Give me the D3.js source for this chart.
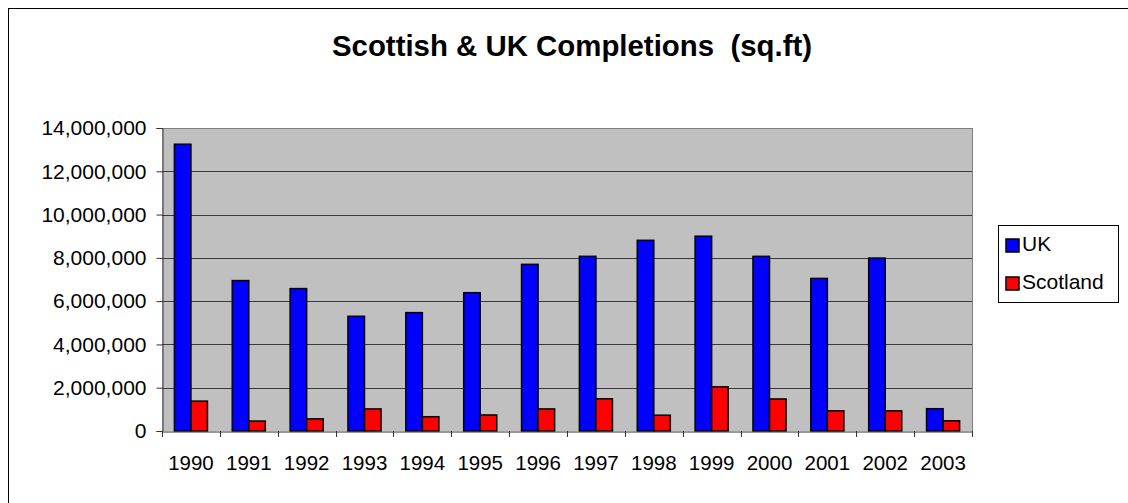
<!DOCTYPE html>
<html>
<head>
<meta charset="utf-8">
<script src="https://cdn.jsdelivr.net/npm/d3@7"></script>
<style>
  html, body { margin: 0; padding: 0; background: #fff; }
  svg { display: block; font-family: "Liberation Sans", Arial, sans-serif; }
</style>
</head>
<body>
<svg id="chart" width="1128" height="503"></svg>
<script>
const years = ["1990","1991","1992","1993","1994","1995","1996","1997","1998","1999","2000","2001","2002","2003"];
const ukValues = [13250000, 6950000, 6580000, 5300000, 5470000, 6390000, 7700000, 8070000, 8810000, 9000000, 8070000, 7050000, 7990000, 1030000];
const scotlandValues = [1380000, 460000, 560000, 1020000, 660000, 740000, 1020000, 1490000, 730000, 2040000, 1480000, 930000, 930000, 470000];
const seriesNames = ["UK", "Scotland"];
const seriesColors = ["#0000FF", "#FF0000"];
const yTicks = [0, 2000000, 4000000, 6000000, 8000000, 10000000, 12000000, 14000000];
const titleText = "Scottish & UK Completions  (sq.ft)";

const svg = d3.select("#chart");
const W = 1128, H = 503;

// outer chart border (right/bottom edges lie outside the picture)
svg.append("rect").attr("x", 8.5).attr("y", 8.5).attr("width", W + 10).attr("height", H + 10)
  .attr("fill", "#fff").attr("stroke", "#000").attr("stroke-width", 1);

const plot = { left: 162, top: 128, right: 972, bottom: 431 };

const x0 = d3.scaleBand().domain(years).range([plot.left, plot.right]).paddingInner(0).paddingOuter(0);
const barW = x0.bandwidth() / 3.5;
const x1 = d3.scaleBand().domain(seriesNames).range([0, barW * 2]);
const y = d3.scaleLinear().domain([0, 14000000]).range([plot.bottom, plot.top]);

// plot background
svg.append("rect").attr("x", plot.left).attr("y", plot.top)
  .attr("width", plot.right - plot.left).attr("height", plot.bottom - plot.top)
  .attr("fill", "#C0C0C0");

// gridlines
svg.append("g").selectAll("line").data(yTicks.filter(d => d > 0)).join("line")
  .attr("x1", plot.left).attr("x2", plot.right)
  .attr("y1", d => Math.round(y(d)) + 0.5).attr("y2", d => Math.round(y(d)) + 0.5)
  .attr("stroke", d => d === 14000000 ? "#808080" : "#3a3a3a").attr("stroke-width", 1);

// plot right border
svg.append("line").attr("x1", plot.right + 0.5).attr("x2", plot.right + 0.5)
  .attr("y1", plot.top).attr("y2", plot.bottom).attr("stroke", "#808080");

// bars
const groups = svg.append("g").selectAll("g").data(years).join("g")
  .attr("transform", d => `translate(${x0(d) + (x0.bandwidth() - barW * 2) / 2},0)`);
groups.selectAll("rect").data((d, i) => [
    { s: "UK", v: ukValues[i], c: seriesColors[0] },
    { s: "Scotland", v: scotlandValues[i], c: seriesColors[1] }
  ]).join("rect")
  .attr("x", d => x1(d.s))
  .attr("width", x1.bandwidth())
  .attr("y", d => y(d.v))
  .attr("height", d => y(0) - y(d.v))
  .attr("fill", d => d.c)
  .attr("stroke", "#000").attr("stroke-width", 1.5);

// y axis
const yAxis = d3.axisLeft(y).tickValues(yTicks).tickSize(6).tickPadding(10)
  .tickFormat(d3.format(","));
const gy = svg.append("g").attr("transform", `translate(${plot.left + 0.5},0)`).call(yAxis);
gy.select(".domain").attr("stroke", "#333");
gy.selectAll(".tick line").attr("stroke", "#333");
gy.selectAll("text").attr("font-size", 21).attr("fill", "#000")
  .attr("font-family", "'Liberation Sans', Arial, sans-serif");

// x axis
const xAxis = d3.axisBottom(x0).tickSize(0).tickPadding(0);
const gx = svg.append("g").attr("transform", `translate(0,${plot.bottom + 0.5})`).call(xAxis);
gx.select(".domain").attr("stroke", "#333");
gx.selectAll(".tick text").attr("font-size", 20.5).attr("fill", "#000").attr("dy", "0").attr("y", 38)
  .attr("font-family", "'Liberation Sans', Arial, sans-serif");
// category boundary ticks
svg.append("g").selectAll("line").data(years.concat(["end"])).join("line")
  .attr("x1", (d, i) => Math.round(plot.left + i * x0.bandwidth()) + 0.5)
  .attr("x2", (d, i) => Math.round(plot.left + i * x0.bandwidth()) + 0.5)
  .attr("y1", plot.bottom).attr("y2", plot.bottom + 6)
  .attr("stroke", "#333");

// title
svg.append("text").attr("x", 572).attr("y", 56).attr("text-anchor", "middle")
  .attr("font-size", 29.4).attr("font-weight", "bold").style("white-space", "pre")
  .text(titleText);

// legend
const lg = svg.append("g");
lg.append("rect").attr("x", 998.5).attr("y", 225.5).attr("width", 120).attr("height", 77)
  .attr("fill", "#fff").attr("stroke", "#000");
const items = lg.selectAll("g").data(seriesNames).join("g")
  .attr("transform", (d, i) => `translate(1006,${239 + i * 38})`);
items.append("rect").attr("width", 13).attr("height", 13)
  .attr("fill", (d, i) => seriesColors[i]).attr("stroke", "#000").attr("stroke-width", 1.5);
items.append("text").attr("x", 16).attr("y", 12).attr("font-size", 21).text(d => d);
</script>
</body>
</html>
